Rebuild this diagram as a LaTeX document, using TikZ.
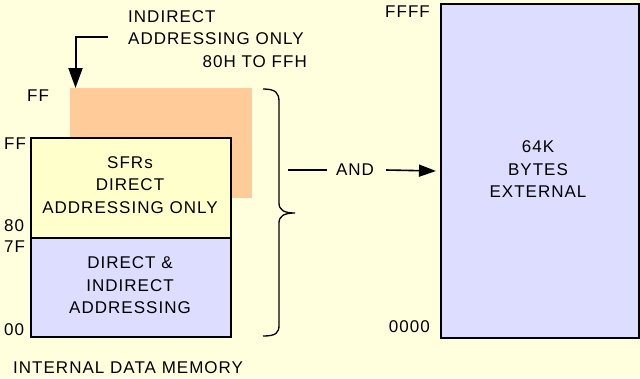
\documentclass[tikz,border=0pt]{standalone}
\usepackage{fontspec}
\setmainfont[LetterSpace=6]{Liberation Sans}
\usetikzlibrary{arrows.meta,calc}
\definecolor{bgc}{RGB}{255,255,221}
\definecolor{sfrc}{RGB}{255,255,204}
\definecolor{bluec}{RGB}{221,221,255}
\definecolor{orangec}{RGB}{255,204,153}
\begin{document}
\begin{tikzpicture}[x=1pt,y=-1pt,
  lbl/.style={inner sep=0pt,font=\fontsize{17}{22.5}\selectfont,text=black},
  membox/.style={draw=black,line width=2pt,anchor=north west,inner sep=0pt,align=center},
  conn/.style={line width=1.6pt}]
\fill[bgc] (0,0) rectangle (640,378);
\useasboundingbox (0,0) rectangle (640,378);
% orange indirect area
\node[fill=orangec,anchor=north west,minimum width=182pt,minimum height=110pt,inner sep=0pt] (ind) at (70,88) {};
% SFR box
\node[membox,fill=sfrc,minimum width=200pt,minimum height=100pt] (sfr) at (30,137) {};
\node[lbl,align=center] (sfrt) at (130,185) {SFRs\\DIRECT\\ADDRESSING ONLY};
% direct/indirect box
\node[membox,fill=bluec,minimum width=200pt,minimum height=99pt] (low) at (30,237) {};
\node[lbl,align=center] (lowt) at (130,285.5) {DIRECT \&\\INDIRECT\\ADDRESSING};
% external box
\node[membox,fill=bluec,minimum width=198pt,minimum height=334pt] (ext) at (440,3) {};
\node[lbl,align=center] (extt) at (538,169.5) {64K\\BYTES\\EXTERNAL};
% address labels
\node[lbl,anchor=west] (aff1) at (27,96) {FF};
\node[lbl,anchor=west] (aff2) at (4,144) {FF};
\node[lbl,anchor=west] (a80) at (4,226) {80};
\node[lbl,anchor=west] (a7f) at (4,246.5) {7F};
\node[lbl,anchor=west] (a00) at (4,330) {00};
\node[lbl,anchor=east] (affff) at (430,12) {FFFF};
\node[lbl,anchor=east] (a0000) at (430,327) {0000};
% heading
\node[lbl,anchor=west] (h1) at (128,16.5) {INDIRECT};
\node[lbl,anchor=west] (h2) at (128,39) {ADDRESSING ONLY};
\node[lbl,anchor=east] (h3) at (307,62) {80H TO FFH};
\coordinate (hs) at (108,37);
\draw[line width=2pt,-{Triangle[width=14pt,length=20pt]}] (hs) -| ($(ind.north west)+(5.5,0)$);
% brace
\draw[line width=1.3pt] (263,89) .. controls (276,89) and (279,93) .. (279,102)
  -- (279,203) .. controls (279,210) and (284,213) .. (295,213)
  .. controls (284,213) and (279,216) .. (279,223)
  -- (279,325) .. controls (279,333) and (276,336) .. (263,336);
\coordinate (br) at (288,170);
\node[lbl] (and) at (355,170) {AND};
\draw[conn] (br) -- ($(and.west)+(-9,0)$);
\draw[conn,-{Triangle[width=12pt,length=17pt]}] ($(and.east)+(12,0)$) -- ($(ext.west)+(-4,0)$);
% caption
\node[lbl,anchor=west] (cap) at (13,368) {INTERNAL DATA MEMORY};
\end{tikzpicture}
\end{document}
